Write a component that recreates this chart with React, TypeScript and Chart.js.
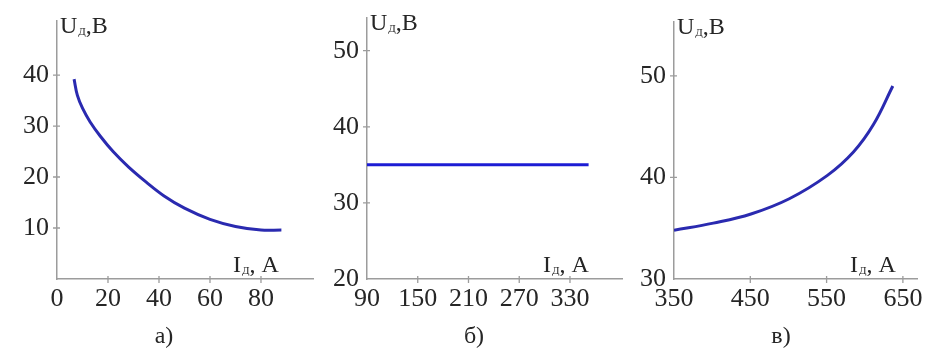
import React, { useEffect, useRef } from "react";
import { Chart, registerables } from "chart.js";

Chart.register(...registerables);

// Panel а): current (A) vs voltage (V)
const aCurrent = [6.7, 8, 10, 13, 17, 22, 28, 35, 42, 50, 60, 70, 80, 88];
const aVoltage = [39.2, 36.0, 33.5, 30.8, 28.0, 25.0, 22.0, 19.0, 16.3, 13.9, 11.7, 10.3, 9.6, 9.6];
const aXTicks = [0, 20, 40, 60, 80];
const aYTicks = [10, 20, 30, 40];

// Panel б)
const bCurrent = [90, 352];
const bVoltage = [35, 35];
const bXTicks = [90, 150, 210, 270, 330];
const bYTicks = [20, 30, 40, 50];

// Panel в)
const cCurrent = [350, 401.5, 450.9, 501.1, 551.1, 585.2, 611.4, 636.8];
const cVoltage = [34.8, 35.5, 36.4, 37.9, 40.2, 42.5, 45.2, 49.0];
const cXTicks = [350, 450, 550, 650];
const cYTicks = [30, 40, 50];

const captions = ["а)", "б)", "в)"];
const yTitle = ["U", "Д", ",B"];
const xTitle = ["I", "Д", ", A"];

const SERIF = "'Liberation Serif', 'Times New Roman', serif";
const AXIS_COLOR = "#9c9c9c";
const TEXT_COLOR = "#262626";

type Panel = {
  xs: number[];
  ys: number[];
  xTicks: number[];
  yTicks: number[];
  xRange: [number, number];
  yRange: [number, number];
  pad: { left: number; right: number; top: number; bottom: number };
  color: string;
  caption: string;
};

const panels: Panel[] = [
  {
    xs: aCurrent, ys: aVoltage, xTicks: aXTicks, yTicks: aYTicks,
    xRange: [0, 100.4], yRange: [0, 50.6],
    pad: { left: 7, right: 614, top: 21, bottom: 37 },
    color: "#2a2ab0", caption: captions[0],
  },
  {
    xs: bCurrent, ys: bVoltage, xTicks: bXTicks, yTicks: bYTicks,
    xRange: [90, 391.5], yRange: [20, 54.3],
    pad: { left: 317, right: 305, top: 18, bottom: 37 },
    color: "#1c1cd4", caption: captions[1],
  },
  {
    xs: cCurrent, ys: cVoltage, xTicks: cXTicks, yTicks: cYTicks,
    xRange: [350, 668.5], yRange: [30, 55.3],
    pad: { left: 624, right: 10, top: 22, bottom: 37 },
    color: "#2a2ab0", caption: captions[2],
  },
];

function drawTitle(ctx: CanvasRenderingContext2D, parts: string[], x: number, y: number) {
  ctx.fillStyle = TEXT_COLOR;
  ctx.textBaseline = "alphabetic";
  ctx.textAlign = "left";
  ctx.font = `24px ${SERIF}`;
  ctx.fillText(parts[0], x, y);
  let cx = x + ctx.measureText(parts[0]).width + 1;
  ctx.font = `11px ${SERIF}`;
  ctx.fillText(parts[1], cx, y + 2);
  cx += ctx.measureText(parts[1]).width;
  ctx.font = `24px ${SERIF}`;
  ctx.fillText(parts[2], cx, y);
}

const annotPlugin = {
  id: "annot",
  afterDraw(chart: any, _args: any, opts: any) {
    const ctx: CanvasRenderingContext2D = chart.ctx;
    const { left, top, bottom } = chart.chartArea;
    const xs = chart.scales.x;
    const ys = chart.scales.y;
    ctx.save();
    ctx.strokeStyle = AXIS_COLOR;
    ctx.lineWidth = 1.3;
    ctx.beginPath();
    for (const t of xs.ticks) {
      if (t.value === xs.min) continue;
      const px = xs.getPixelForValue(t.value);
      ctx.moveTo(px, bottom - 3);
      ctx.lineTo(px, bottom + 4);
    }
    for (const t of ys.ticks) {
      if (t.value === ys.min) continue;
      const py = ys.getPixelForValue(t.value);
      ctx.moveTo(left - 4, py);
      ctx.lineTo(left + 3, py);
    }
    ctx.stroke();

    drawTitle(ctx, yTitle, left + 3, top + 12);
    drawTitle(ctx, xTitle, left + 176, bottom - 7);

    ctx.font = `24px ${SERIF}`;
    ctx.textAlign = "center";
    ctx.textBaseline = "middle";
    ctx.fillStyle = TEXT_COLOR;
    ctx.fillText(opts.caption, left + 107, 337);
    ctx.restore();
  },
};

function makeConfig(p: Panel): any {
  const tickFont = { family: SERIF, size: 26 };
  return {
    type: "line",
    data: {
      datasets: [
        {
          data: p.xs.map((x, i) => ({ x, y: p.ys[i] })),
          borderColor: p.color,
          borderWidth: 3,
          pointRadius: 0,
          tension: 0.4,
          fill: false,
        },
      ],
    },
    options: {
      responsive: false,
      animation: false,
      devicePixelRatio: 1,
      layout: { padding: p.pad },
      plugins: {
        legend: { display: false },
        tooltip: { enabled: false },
        annot: { caption: p.caption },
      },
      scales: {
        x: {
          type: "linear",
          min: p.xRange[0],
          max: p.xRange[1],
          grid: { display: false, drawTicks: false },
          border: { display: true, color: AXIS_COLOR, width: 1.5 },
          ticks: { font: tickFont, color: TEXT_COLOR, padding: 5, maxRotation: 0, autoSkip: false },
          afterBuildTicks: (s: any) => {
            s.ticks = p.xTicks.map((v) => ({ value: v }));
          },
          afterFit: (s: any) => {
            s.height = 40;
            s.paddingLeft = 0;
            s.paddingRight = 0;
          },
        },
        y: {
          type: "linear",
          min: p.yRange[0],
          max: p.yRange[1],
          grid: { display: false, drawTicks: false },
          border: { display: true, color: AXIS_COLOR, width: 1.5 },
          ticks: { font: tickFont, color: TEXT_COLOR, padding: 8, autoSkip: false },
          afterBuildTicks: (s: any) => {
            s.ticks = p.yTicks.map((v) => ({ value: v }));
          },
          afterFit: (s: any) => {
            s.width = 50;
            s.paddingTop = 0;
            s.paddingBottom = 0;
          },
        },
      },
    },
    plugins: [annotPlugin],
  };
}

function PanelChart({ panel }: { panel: Panel }) {
  const ref = useRef<HTMLCanvasElement>(null);
  useEffect(() => {
    if (!ref.current) return;
    const chart = new Chart(ref.current, makeConfig(panel));
    return () => chart.destroy();
  }, [panel]);
  return (
    <canvas
      ref={ref}
      width={927}
      height={356}
      style={{ position: "absolute", left: 0, top: 0 }}
    />
  );
}

export default function App() {
  return (
    <div
      style={{
        position: "absolute",
        left: 0,
        top: 0,
        width: 927,
        height: 356,
        background: "#ffffff",
        overflow: "hidden",
      }}
    >
      {panels.map((p, i) => (
        <PanelChart key={i} panel={p} />
      ))}
    </div>
  );
}
